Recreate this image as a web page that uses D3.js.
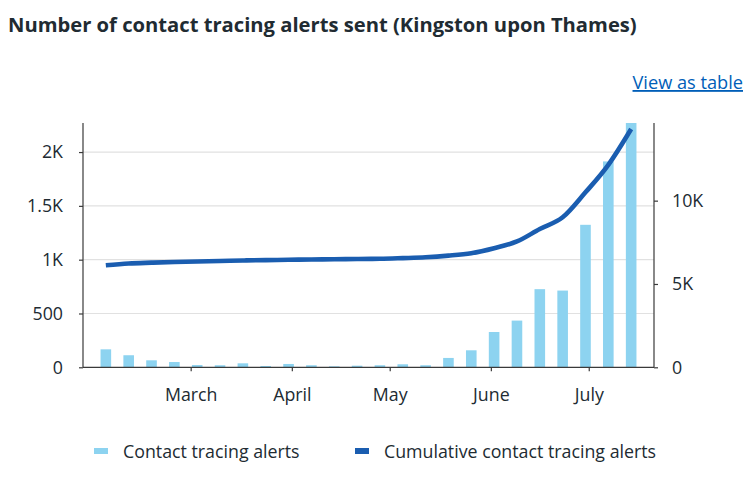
<!DOCTYPE html>
<html>
<head>
<meta charset="utf-8">
<script src="https://cdn.jsdelivr.net/npm/d3@7"></script>
<style>
  html, body { margin: 0; padding: 0; background: #fff; }
  svg { display: block; font-family: "Open Sans", "Noto Sans", sans-serif; }
</style>
</head>
<body>
<svg id="chart" width="750" height="485"></svg>
<script>
// ---- data ----
const weeks = ["2021-02-03","2021-02-10","2021-02-17","2021-02-24","2021-03-03","2021-03-10",
  "2021-03-17","2021-03-24","2021-03-31","2021-04-07","2021-04-14","2021-04-21","2021-04-28",
  "2021-05-05","2021-05-12","2021-05-19","2021-05-26","2021-06-02","2021-06-09","2021-06-16",
  "2021-06-23","2021-06-30","2021-07-07","2021-07-14"];
const alerts = [167,112,65,49,21,19,37,12,31,19,9,15,19,28,19,87,158,328,434,726,713,1324,1913,2270];
const cumulative = [6120,6230,6280,6320,6350,6380,6410,6430,6450,6470,6480,6500,6510,6550,6600,
  6700,6850,7150,7550,8300,9000,10500,12150,14300];
const leftTicks = [0,500,1000,1500,2000];
const leftTickLabels = ["0","500","1K","1.5K","2K"];
const rightTicks = [0,5000,10000];
const rightTickLabels = ["0","5K","10K"];
const monthTicks = ["2021-03-01","2021-04-01","2021-05-01","2021-06-01","2021-07-01"];
const monthLabels = ["March","April","May","June","July"];
const rightMax = 14660;
const seriesNames = ["Contact tracing alerts","Cumulative contact tracing alerts"];
const titleText = "Number of contact tracing alerts sent (Kingston upon Thames)";

// ---- styles ----
const barColor = "#8dd3f0";
const lineColor = "#1a5db0";
const textColor = "#212b32";
const axisColor = "#3a3a3a";
const labelSize = 17.8;

const parse = d3.timeParse("%Y-%m-%d");
const dates = weeks.map(parse);
const svg = d3.select("#chart");

const pL = 83, pR = 654, pT = 123, pB = 367.3;
const day = 86400000;
const x = d3.scaleTime()
  .domain([new Date(dates[0].getTime() - 7*day), new Date(dates[dates.length-1].getTime() + 7*day)])
  .range([pL, pR]);
const y = d3.scaleLinear().domain([0, d3.max(alerts)]).range([pB, pT]);
const y2 = d3.scaleLinear().domain([0, rightMax]).range([pB, pT]);

// title
svg.append("text").attr("x", 8).attr("y", 32)
  .attr("font-size", 20.2).attr("font-weight", 700).attr("fill", textColor)
  .text(titleText);

// view as table link
svg.append("text").attr("x", 743).attr("y", 89).attr("text-anchor", "end")
  .attr("font-size", 18.2).attr("fill", "#005eb8")
  .attr("text-decoration", "underline")
  .text("View as table");

// gridlines
svg.append("g").selectAll("line").data(leftTicks.slice(1)).join("line")
  .attr("x1", pL).attr("x2", pR)
  .attr("y1", d => y(d)).attr("y2", d => y(d))
  .attr("stroke", "#e1e1e1").attr("stroke-width", 1.2);

// bars
const bw = 10.6;
svg.append("g").selectAll("rect").data(alerts).join("rect")
  .attr("x", (d, i) => x(dates[i]) - bw/2)
  .attr("width", bw)
  .attr("y", d => y(d))
  .attr("height", d => pB - y(d))
  .attr("fill", barColor);

// line
const line = d3.line()
  .x((d, i) => x(dates[i]))
  .y(d => y2(d))
  .curve(d3.curveMonotoneX);
svg.append("path").datum(cumulative)
  .attr("d", line)
  .attr("fill", "none")
  .attr("stroke", lineColor)
  .attr("stroke-width", 4.6)
  .attr("stroke-linecap", "butt");

// axes
const leftAxis = d3.axisLeft(y).tickValues(leftTicks)
  .tickFormat((d, i) => leftTickLabels[i]).tickSize(4).tickPadding(16);
const gl = svg.append("g").attr("transform", `translate(${pL},0)`).call(leftAxis);

const rightAxis = d3.axisRight(y2).tickValues(rightTicks)
  .tickFormat((d, i) => rightTickLabels[i]).tickSize(4).tickPadding(14);
const gr = svg.append("g").attr("transform", `translate(${pR},0)`).call(rightAxis);

const bottomAxis = d3.axisBottom(x).tickValues(monthTicks.map(parse))
  .tickFormat((d, i) => monthLabels[i]).tickSize(4).tickPadding(17);
const gb = svg.append("g").attr("transform", `translate(0,${pB})`).call(bottomAxis);

[gl, gr, gb].forEach(g => {
  g.select(".domain").attr("stroke", axisColor).attr("stroke-width", 1.2);
  g.selectAll(".tick line").attr("stroke", axisColor).attr("stroke-width", 1.2);
  g.selectAll(".tick text").attr("fill", textColor).attr("font-size", labelSize)
    .attr("font-family", "\"Open Sans\", \"Noto Sans\", sans-serif");
});
gl.select(".domain").attr("d", `M0,${pT}V${pB}`);
gr.select(".domain").attr("d", `M0,${pT}V${pB}`);
gb.select(".domain").attr("d", `M${pL},0H${pR}`);

// legend
const legend = svg.append("g").attr("font-size", labelSize).attr("fill", textColor);
const legendItems = [
  {x: 94, color: barColor, name: seriesNames[0]},
  {x: 355, color: lineColor, name: seriesNames[1]}
];
legendItems.forEach(it => {
  legend.append("rect").attr("x", it.x).attr("y", 448).attr("width", 14).attr("height", 6)
    .attr("fill", it.color);
  legend.append("text").attr("x", it.x + 29).attr("y", 458).attr("fill", textColor)
    .text(it.name);
});
</script>
</body>
</html>
